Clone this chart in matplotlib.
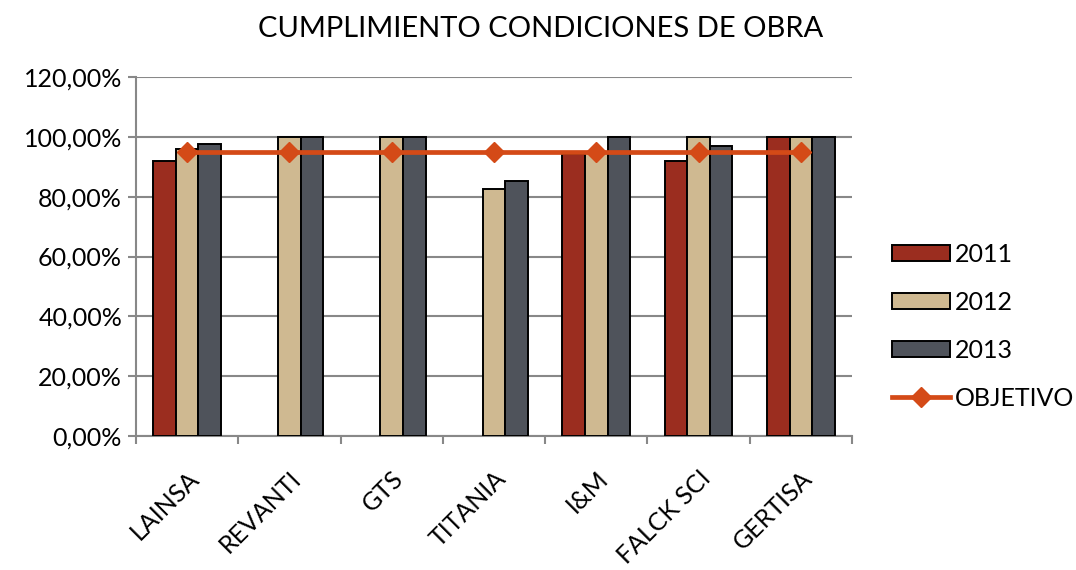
import numpy as np
import matplotlib
matplotlib.use("Agg")
import matplotlib.pyplot as plt
from matplotlib.ticker import FuncFormatter, FixedLocator

categories = ["LAINSA", "REVANTI", "GTS", "TITANIA", "I&M", "FALCK SCI", "GERTISA"]
v2011 = [92.0, np.nan, np.nan, np.nan, 94.2, 92.0, 100.0]
v2012 = [96.0, 100.0, 100.0, 82.5, 95.0, 100.0, 100.0]
v2013 = [97.5, 100.0, 100.0, 85.4, 100.0, 97.1, 100.0]
objetivo = [95.0] * 7
series_names = ["2011", "2012", "2013"]
colors = ["#9B2D1F", "#CFB991", "#4F535B"]
line_color = "#D44A17"

plt.rcParams['font.family'] = ['Lato', 'DejaVu Sans']

fig = plt.figure(figsize=(10.76, 5.70), dpi=100)
ax = fig.add_axes([136/1076, 1 - 436/570, (852-136)/1076, (436-77)/570])

x = np.arange(len(categories))
bw = 0.221
for i, (vals, name, col) in enumerate(zip([v2011, v2012, v2013], series_names, colors)):
    vals = np.array(vals, dtype=float)
    mask = np.isfinite(vals)
    ax.bar(x[mask] + (i - 1) * bw, vals[mask], width=bw, color=col,
           edgecolor="black", linewidth=1.4, label=name, zorder=3)

ax.plot(x, objetivo, color=line_color, linewidth=3.4, marker="D",
        markersize=10, markerfacecolor=line_color, markeredgecolor=line_color,
        label="OBJETIVO", zorder=4)

ax.set_xlim(-0.5, len(categories) - 0.5)
ax.set_ylim(0, 120)
ax.set_yticks(np.arange(0, 121, 20))
ax.yaxis.set_major_formatter(FuncFormatter(lambda v, p: f"{v:.2f}".replace(".", ",") + "%"))
ax.grid(axis="y", color="#888888", linewidth=1.5, zorder=0)
ax.set_axisbelow(True)

ax.set_xticks(x)
ax.set_xticklabels(categories, rotation=45, ha="right", rotation_mode="anchor", fontsize=18)
ax.tick_params(axis="x", length=0, pad=22)
ax.xaxis.set_minor_locator(FixedLocator(np.arange(-0.5, len(categories), 1.0)))
ax.tick_params(axis="x", which="minor", length=6, width=1.5, color="#888888")
ax.tick_params(axis="y", length=6, width=1.5, color="#888888", labelsize=18, pad=4)

for s in ["top", "right"]:
    ax.spines[s].set_visible(False)
for s in ["left", "bottom"]:
    ax.spines[s].set_color("#888888")
    ax.spines[s].set_linewidth(1.5)

fig.text(541/1076, 1 - 29/570, "CUMPLIMIENTO CONDICIONES DE OBRA", ha="center",
         va="center", fontsize=21)

handles, labels = ax.get_legend_handles_labels()
order = [1, 2, 3, 0]
fig.legend([handles[k] for k in order], [labels[k] for k in order],
           loc="center left", bbox_to_anchor=(882/1076, 1 - 326/570), frameon=False,
           fontsize=18, handlelength=2.3, handleheight=0.6, labelspacing=1.0,
           handletextpad=0.2, borderaxespad=0)

fig.savefig("out.png", dpi=100)
